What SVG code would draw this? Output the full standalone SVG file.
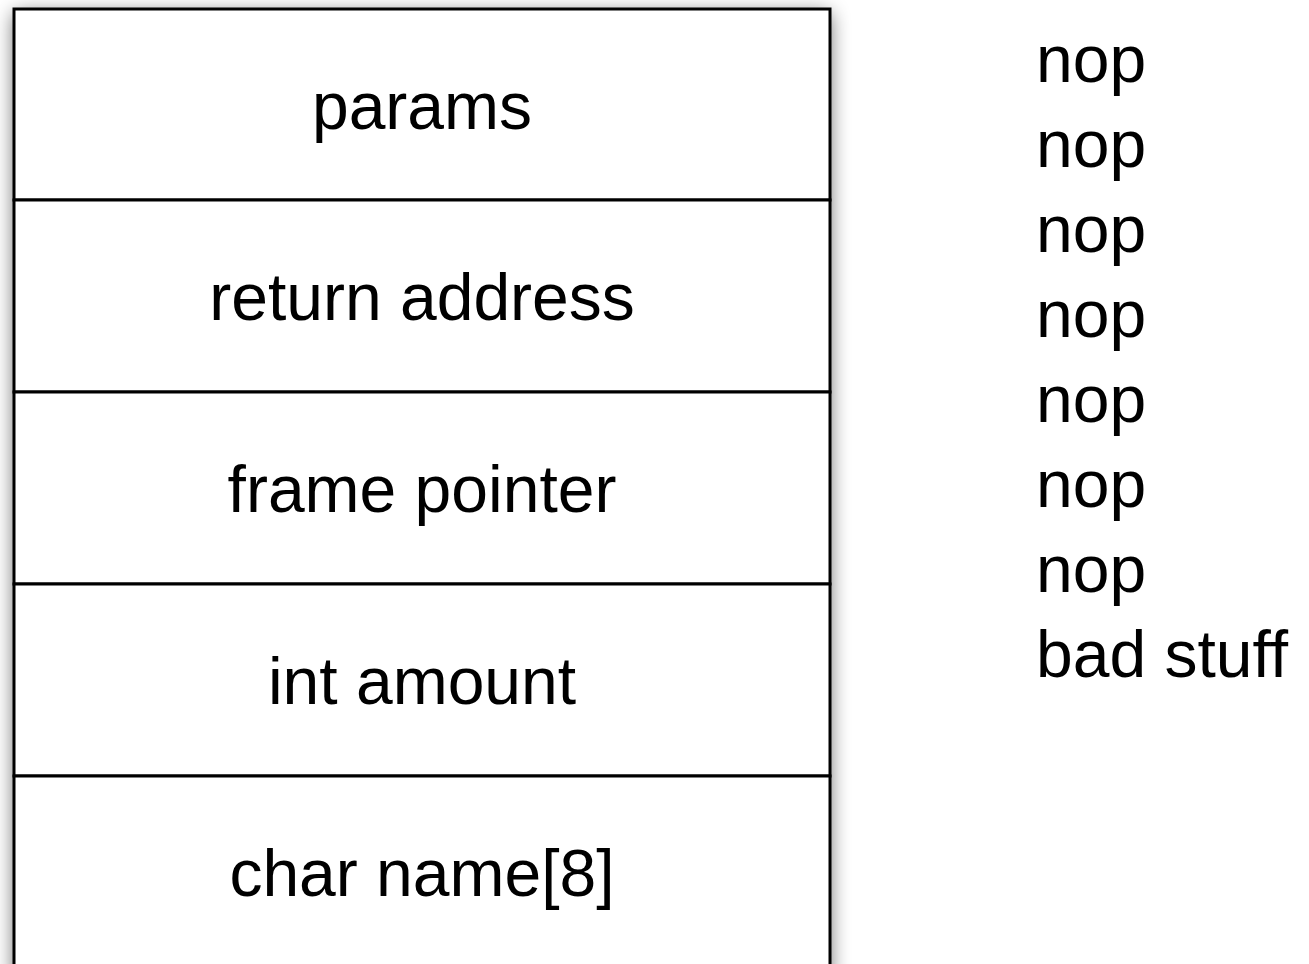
<svg xmlns="http://www.w3.org/2000/svg" width="1309" height="964" viewBox="0 0 1309 964">
<defs>
<filter id="sh" x="-10%" y="-10%" width="120%" height="120%">
<feGaussianBlur in="SourceAlpha" stdDeviation="10"/>
<feOffset dx="0" dy="4" result="b"/>
<feComponentTransfer><feFuncA type="linear" slope="0.6"/></feComponentTransfer>
<feMerge><feMergeNode/><feMergeNode in="SourceGraphic"/></feMerge>
</filter>
</defs>
<style>
text{font-family:"Liberation Sans",Arial,sans-serif;font-size:66px;fill:#000}
.c{text-anchor:middle}
.cell{fill:#fff;stroke:#000;stroke-width:3}
</style>
<rect width="1309" height="964" fill="#fff"/>
<g id="stack">
<rect x="14" y="9" width="816" height="970" fill="#fff" filter="url(#sh)"/>
<g id="params"><rect class="cell" x="14" y="9" width="816" height="191"/><text class="c" x="422" y="129">params</text></g>
<g id="return-address"><rect class="cell" x="14" y="200" width="816" height="192"/><text class="c" x="422" y="320">return address</text></g>
<g id="frame-pointer"><rect class="cell" x="14" y="392" width="816" height="192"/><text class="c" x="422" y="512">frame pointer</text></g>
<g id="int-amount"><rect class="cell" x="14" y="584" width="816" height="192"/><text class="c" x="422" y="704">int amount</text></g>
<g id="char-name"><rect class="cell" x="14" y="776" width="816" height="200"/><text class="c" x="422" y="896">char name[8]</text></g>
</g>
<g id="connectors"/>
<g id="payload">
<text x="1036" y="82">nop</text>
<text x="1036" y="167">nop</text>
<text x="1036" y="252">nop</text>
<text x="1036" y="337">nop</text>
<text x="1036" y="422">nop</text>
<text x="1036" y="507">nop</text>
<text x="1036" y="592">nop</text>
<text x="1036" y="677">bad stuff</text>
</g>
</svg>
